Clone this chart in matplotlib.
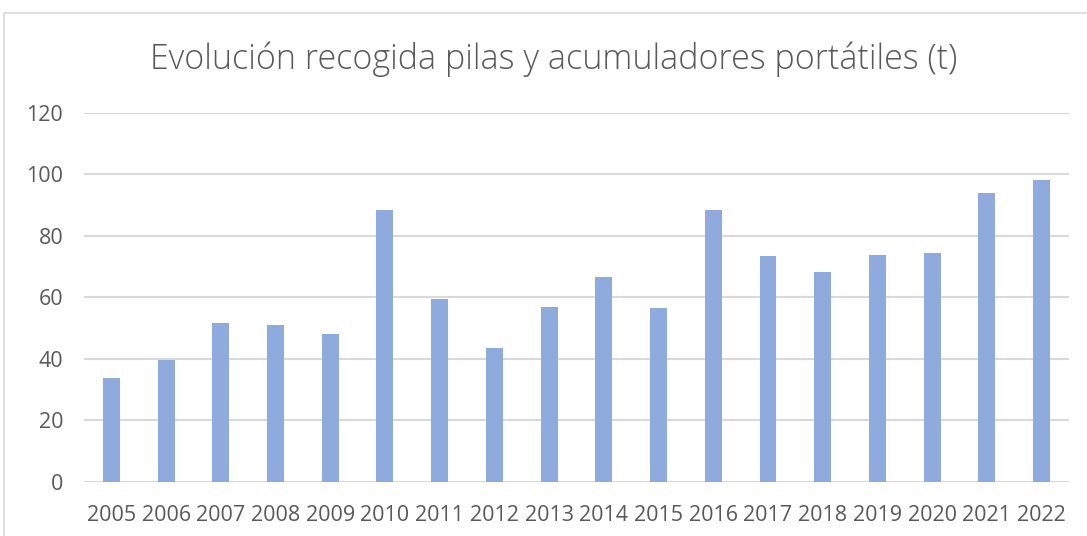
import matplotlib.pyplot as plt
from matplotlib.patches import Rectangle

years = ['2005', '2006', '2007', '2008', '2009', '2010', '2011', '2012', '2013',
         '2014', '2015', '2016', '2017', '2018', '2019', '2020', '2021', '2022']
tonnes = [33.6, 39.6, 51.8, 51.1, 48.1, 88.4, 59.6, 43.6, 57.0,
          66.5, 56.5, 88.4, 73.3, 68.2, 73.9, 74.3, 94.1, 98.2]
yticks = [0, 20, 40, 60, 80, 100, 120]

plt.rcParams['font.family'] = ['Open Sans', 'DejaVu Sans']
txt = '#595959'

fig = plt.figure(figsize=(10.87, 5.36), dpi=100)
ax = fig.add_axes([0.0773, 0.1013, 0.9061, 0.6879])

# outer chart frame
fig.patches.append(Rectangle((4 / 1087, -0.01), 1.02, 1 - 13 / 536 + 0.01,
                             transform=fig.transFigure, fill=False,
                             edgecolor='#d9d9d9', linewidth=1.2))

ax.bar(range(len(years)), tonnes, width=0.31, color='#8faadc', zorder=3)

ax.set_xlim(-0.5, len(years) - 0.5)
ax.set_ylim(0, 120)
ax.set_yticks(yticks)
ax.set_xticks(range(len(years)))
ax.set_xticklabels(years)
ax.grid(axis='y', color='#d9d9d9', linewidth=1.5, zorder=0)
for s in ax.spines.values():
    s.set_visible(False)
ax.tick_params(length=0, labelsize=15.5, colors=txt)
ax.tick_params(axis='y', pad=15)
ax.tick_params(axis='x', pad=17)

fig.text(0.509, 0.89, 'Evolución recogida pilas y acumuladores portátiles (t)',
         ha='center', va='center', fontsize=24.5, color=txt, fontweight='light')

fig.savefig('out.png', dpi=100)
